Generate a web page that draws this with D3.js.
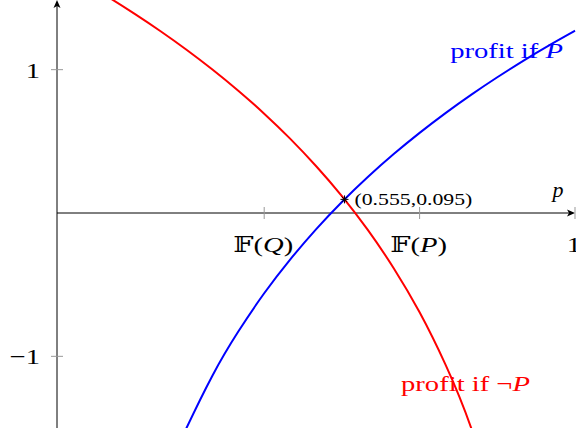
<!DOCTYPE html>
<html lang="en">
<head>
  <meta charset="UTF-8">
  <title>Profit curves</title>
  <script src="https://d3js.org/d3.v7.min.js"></script>
  <style>
    body { margin: 0; background: #fff; }
    text { font-family: "Liberation Serif", "DejaVu Serif", serif; }
    .axis-line { stroke: #000; stroke-width: 1; fill: none; }
    .tick-mark { stroke: #999; stroke-width: 1; }
  </style>
</head>
<body>
  <svg></svg>
  <script>
    const width = 576;
    const height = 435;

    const blueP = [0.24, 0.25, 0.30, 0.35, 0.40, 0.45, 0.50, 0.55, 0.60, 0.65, 0.70, 0.75, 0.80, 0.85, 0.90, 0.95, 1.00];
    const blueProfit = [-1.582, -1.500, -1.135, -0.827, -0.560, -0.325, -0.114, 0.077, 0.251, 0.411, 0.559, 0.697, 0.826, 0.947, 1.062, 1.170, 1.272];

    const redP = [0.05, 0.10, 0.15, 0.20, 0.25, 0.30, 0.35, 0.40, 0.45, 0.50, 0.55, 0.60, 0.65, 0.70, 0.75, 0.80, 0.85];
    const redProfit = [1.612, 1.504, 1.389, 1.268, 1.139, 1.001, 0.853, 0.693, 0.519, 0.328, 0.118, -0.118, -0.385, -0.693, -1.058, -1.504, -2.080];

    const xTicks = [0.4, 0.7, 1];
    const xTickLabels = [["𝔽(", "Q", ")"], ["𝔽(", "P", ")"], ["1", "", ""]];
    const yTicks = [1, -1];
    const yTickLabels = ["1", "\u22121"];

    const crossing = [0.555, 0.095];

    const svg = d3.select("svg")
        .attr("width", width)
        .attr("height", height);

    const x = d3.scaleLinear().domain([0, 1]).range([57, 575]);
    const y = d3.scaleLinear().domain([-1.5, 1.5]).range([428, -2]);

    // TeX fonts run wider than Liberation Serif, so stretch labels a bit
    function widen(sel, k) {
      sel.each(function() {
        const w = this.getComputedTextLength();
        d3.select(this)
            .attr("textLength", w * k)
            .attr("lengthAdjust", "spacingAndGlyphs");
      });
    }

    svg.append("clipPath").attr("id", "plot")
      .append("rect")
        .attr("x", 57).attr("y", 0)
        .attr("width", 520).attr("height", 428);

    const g = svg.append("g");

    // axes
    g.append("line").attr("class", "axis-line")
        .attr("x1", x(0)).attr("x2", x(1) - 2)
        .attr("y1", y(0)).attr("y2", y(0));
    g.append("path")
        .attr("d", `M${x(1)},${y(0)} l-8,-3.5 l2,3.5 l-2,3.5 z`)
        .attr("fill", "#000");
    g.append("line").attr("class", "axis-line")
        .attr("x1", x(0)).attr("x2", x(0))
        .attr("y1", 428).attr("y2", 2);
    g.append("path")
        .attr("d", `M${x(0)},0 l-3.5,8 l3.5,-2 l3.5,2 z`)
        .attr("fill", "#000");

    xTicks.forEach((t, i) => {
      g.append("line").attr("class", "tick-mark")
          .attr("x1", x(t)).attr("x2", x(t))
          .attr("y1", y(0) - 6).attr("y2", y(0) + 6);
      const lbl = g.append("text")
          .attr("x", x(t) - 1).attr("y", y(0) + 39)
          .attr("text-anchor", "middle")
          .attr("font-size", 22);
      lbl.append("tspan").text(xTickLabels[i][0]);
      lbl.append("tspan").attr("font-style", "italic").text(xTickLabels[i][1]);
      lbl.append("tspan").text(xTickLabels[i][2]);
      widen(lbl, 1.3);
    });

    yTicks.forEach((t, i) => {
      const lbl = g.append("text")
          .attr("x", 40).attr("y", y(t) + 8)
          .attr("text-anchor", "end")
          .attr("font-size", 22)
          .text(yTickLabels[i]);
      widen(lbl, 1.3);
      g.append("line").attr("class", "tick-mark")
          .attr("x1", x(0) - 6).attr("x2", x(0) + 6)
          .attr("y1", y(t)).attr("y2", y(t));
    });

    g.append("text")
        .attr("x", 558).attr("y", 197)
        .attr("text-anchor", "middle")
        .attr("font-size", 22)
        .attr("font-style", "italic")
        .text("p");

    const line = d3.line()
        .x(d => x(d[0]))
        .y(d => y(d[1]))
        .curve(d3.curveNatural);

    const curves = svg.append("g").attr("clip-path", "url(#plot)");
    curves.append("path")
        .datum(blueP.map((p, i) => [p, blueProfit[i]]))
        .attr("d", line)
        .attr("fill", "none")
        .attr("stroke", "#0000ff")
        .attr("stroke-width", 2);
    curves.append("path")
        .datum(redP.map((p, i) => [p, redProfit[i]]))
        .attr("d", line)
        .attr("fill", "none")
        .attr("stroke", "#ff0000")
        .attr("stroke-width", 2);

    // crossing marker
    const cx = x(crossing[0]), cy = y(crossing[1]);
    const s = 4;
    svg.append("path")
        .attr("d", `M${cx - s},${cy} H${cx + s} M${cx},${cy - s} V${cy + s} M${cx - s * 0.7},${cy - s * 0.7} L${cx + s * 0.7},${cy + s * 0.7} M${cx - s * 0.7},${cy + s * 0.7} L${cx + s * 0.7},${cy - s * 0.7}`)
        .attr("stroke", "#000")
        .attr("stroke-width", 1);
    const ann = svg.append("text")
        .attr("x", cx + 10).attr("y", cy + 6)
        .attr("font-size", 17)
        .text(`(${crossing[0]},${crossing[1]})`);
    widen(ann, 1.28);

    // curve labels
    const blueLbl = svg.append("text")
        .attr("x", 563).attr("y", 58)
        .attr("text-anchor", "end")
        .attr("font-size", 22)
        .attr("fill", "#0000ff");
    blueLbl.append("tspan").text("profit if ");
    blueLbl.append("tspan").attr("font-style", "italic").text("P");
    widen(blueLbl, 1.3);

    const redLbl = svg.append("text")
        .attr("x", 530).attr("y", 391)
        .attr("text-anchor", "end")
        .attr("font-size", 22)
        .attr("fill", "#ff0000");
    redLbl.append("tspan").text("profit if \u00ac");
    redLbl.append("tspan").attr("font-style", "italic").text("P");
    widen(redLbl, 1.3);
  </script>
</body>
</html>
